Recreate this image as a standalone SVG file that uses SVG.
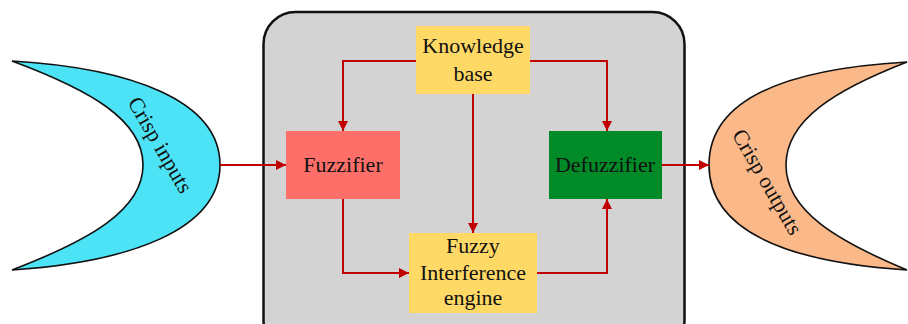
<svg xmlns="http://www.w3.org/2000/svg" width="908" height="324" viewBox="0 0 908 324">
<defs>
<style>
.lbl{font-family:"Liberation Serif","Times New Roman",serif;font-size:22px;fill:#111;text-anchor:middle}
.con{fill:none;stroke:#C00000;stroke-width:2}
.crescent{stroke:#111;stroke-width:1.6}
</style>
<marker id="ah" viewBox="0 0 10 10" refX="10" refY="5" markerWidth="10" markerHeight="10" markerUnits="userSpaceOnUse" orient="auto">
<path d="M0,0 L10,5 L0,10 Z" fill="#C00000"/>
</marker>
</defs>
<rect width="908" height="324" fill="#fff"/>
<g id="container">
<rect x="263.5" y="12" width="421" height="340" rx="32" ry="32" fill="#D3D3D3" stroke="#111" stroke-width="2.5"/>
</g>
<g id="crisp-inputs">
<path class="crescent" fill="#4DE3F7" d="M12,61 C130,68 220,100 220,165 C220,230 130,262 12,270 C90,240 143,210 143,165 C143,120 90,90 12,61 Z"/>
<text class="lbl" transform="translate(160,145) rotate(60)" x="0" y="7">Crisp inputs</text>
</g>
<g id="crisp-outputs">
<path class="crescent" fill="#FBB98A" d="M907,62 C785,69 709,100 709,165 C709,230 785,262 907,270 C835,240 786,210 786,165 C786,120 835,90 907,62 Z"/>
<text class="lbl" transform="translate(767,182) rotate(60)" x="0" y="7">Crisp outputs</text>
</g>
<g id="knowledge-base">
<rect x="416" y="26" width="114" height="68" fill="#FFD966"/>
<text class="lbl" x="473" y="53">Knowledge</text>
<text class="lbl" x="473" y="81">base</text>
</g>
<g id="fuzzifier">
<rect x="286" y="131" width="114" height="68" fill="#FF6F6A"/>
<text class="lbl" x="343" y="172">Fuzzifier</text>
</g>
<g id="defuzzifier">
<rect x="549" y="131" width="113" height="68" fill="#008A28"/>
<text class="lbl" x="605" y="172">Defuzzifier</text>
</g>
<g id="inference-engine">
<rect x="409" y="233" width="128" height="80" fill="#FFD966"/>
<text class="lbl" x="473" y="253">Fuzzy</text>
<text class="lbl" x="473" y="280">Interference</text>
<text class="lbl" x="473" y="305">engine</text>
</g>
<g id="connectors">
<path class="con" d="M220,165 H286" marker-end="url(#ah)"/>
<path class="con" d="M416,61 H343 V131" marker-end="url(#ah)"/>
<path class="con" d="M530,61 H607 V131" marker-end="url(#ah)"/>
<path class="con" d="M473,94 V233" marker-end="url(#ah)"/>
<path class="con" d="M343,199 V273 H409" marker-end="url(#ah)"/>
<path class="con" d="M537,273 H607 V199" marker-end="url(#ah)"/>
<path class="con" d="M662,165 H709" marker-end="url(#ah)"/>
</g>
</svg>
